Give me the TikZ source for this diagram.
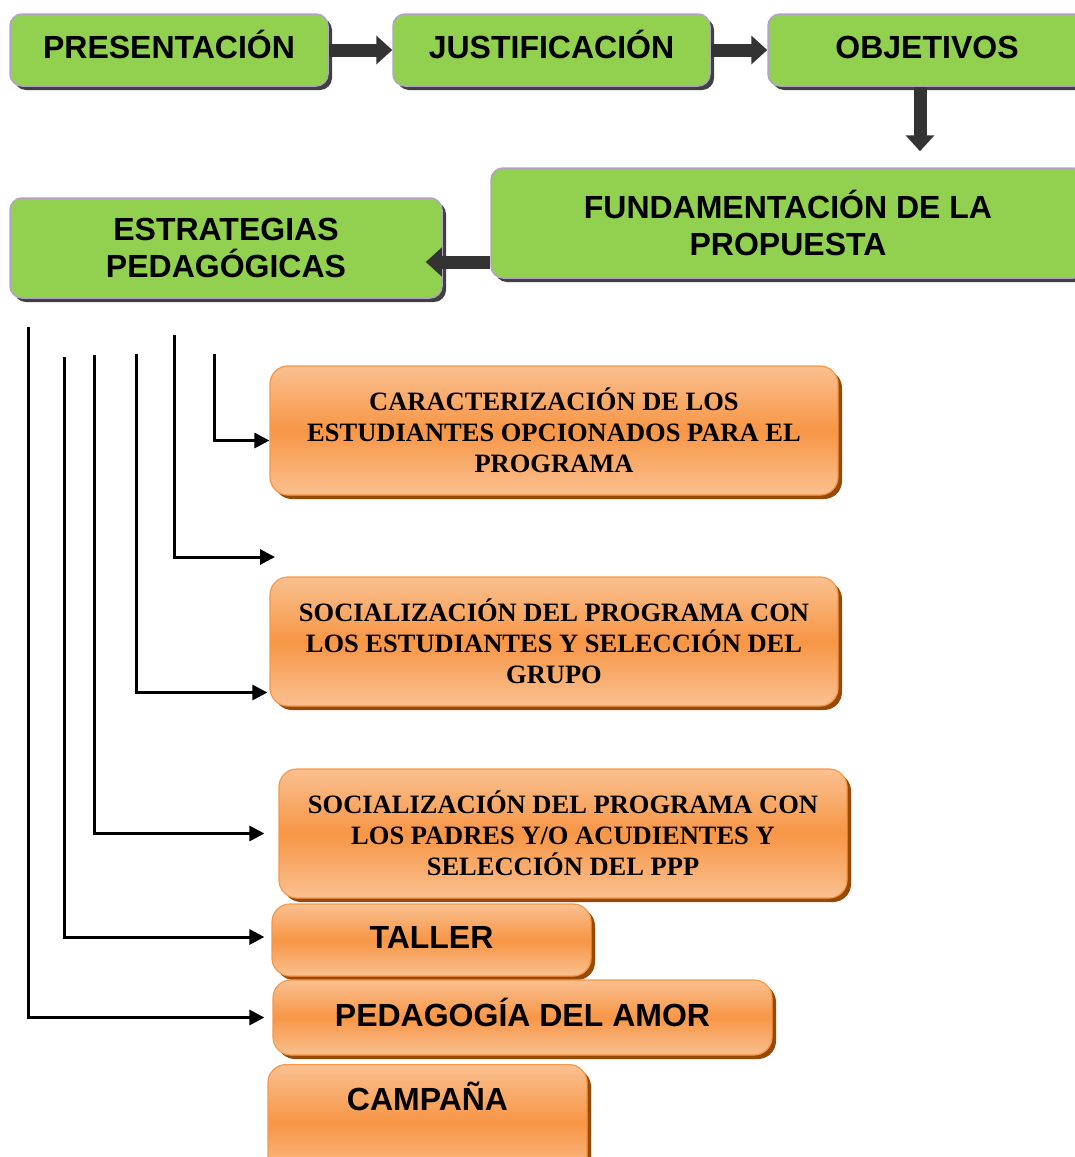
\documentclass[tikz,border=0pt]{standalone}
\usepackage{fontspec}
\usepackage{tikz}
\usetikzlibrary{shadows}
\usetikzlibrary{arrows.meta}
\newfontfamily\sanstext{Liberation Sans}
\newfontfamily\seriftext{Liberation Serif}
\definecolor{boxgreen}{HTML}{92D050}
\definecolor{boxlilac}{HTML}{B3A2C7}
\definecolor{orangelight}{HTML}{FAC090}
\definecolor{orangemid}{HTML}{F79646}
\definecolor{orangeshadow}{HTML}{984807}
\tikzset{
  greenbox/.style = {draw = boxlilac, line width = 1.5pt, fill = boxgreen,
    rounded corners = 12pt, inner sep = 0pt, align = center,
    drop shadow = {shadow xshift = 4pt, shadow yshift = -4pt, fill = black!75, opacity = 1},
    font = \sanstext\bfseries\fontsize{32}{37}\selectfont},
  orangebox/.style = {draw = orangemid, line width = 1.2pt,
    top color = orangelight, bottom color = orangelight, middle color = orangemid,
    rounded corners = 18pt, inner sep = 0pt, align = center,
    drop shadow = {shadow xshift = 4pt, shadow yshift = -4pt, fill = orangeshadow, opacity = 1}},
  orangesans/.style = {orangebox, font = \sanstext\bfseries\fontsize{32}{37}\selectfont},
  orangeserif/.style = {orangebox, font = \seriftext\bfseries\fontsize{26.5}{31}\selectfont},
  oneline/.style = {text height = 24pt, text depth = 7pt},
  bigarrow/.style = {line width = 13pt, black!80, -{Triangle[length = 16pt, width = 28pt]}},
  link/.style = {line width = 3pt, -{Triangle[length = 15pt, width = 15pt]}}
}
\begin{document}
\begin{tikzpicture}[x = 1pt, y = -1pt]
\clip (0, 0) rectangle (1075, 1157);
% green chain
\draw (169, 50) node[greenbox, oneline, minimum width = 318pt, minimum height = 72pt] (pres) {PRESENTACIÓN};
\draw (551.5, 50) node[greenbox, oneline, minimum width = 317pt, minimum height = 72pt] (just) {JUSTIFICACIÓN};
\draw (927, 50) node[greenbox, oneline, minimum width = 318pt, minimum height = 72pt] (obj) {OBJETIVOS};
\draw (788, 223) node[greenbox, minimum width = 594pt, minimum height = 110pt] (fund) {FUNDAMENTACIÓN DE LA\\PROPUESTA};
\draw (226, 248) node[greenbox, minimum width = 432pt, minimum height = 100pt] (estr) {ESTRATEGIAS\\PEDAGÓGICAS};
\draw [bigarrow] (pres) to (just);
\draw [bigarrow] (just) to (obj);
\draw [bigarrow, shorten >= 16pt] ([xshift = -7pt]obj.south) to ([xshift = -7pt]obj.south |- fund.north);
\draw [bigarrow, shorten >= -17pt] ([yshift = -39pt]fund.west) to ([yshift = -39pt]fund.west -| estr.east);
% orange boxes
\draw (554, 430.5) node[orangeserif, minimum width = 568pt, minimum height = 129pt] (caract)
  {CARACTERIZACIÓN DE LOS\\ESTUDIANTES OPCIONADOS PARA EL\\PROGRAMA};
\draw (554, 641.5) node[orangeserif, minimum width = 568pt, minimum height = 129pt] (socest)
  {SOCIALIZACIÓN DEL PROGRAMA CON\\LOS ESTUDIANTES Y SELECCIÓN DEL\\GRUPO};
\draw (563, 833.5) node[orangeserif, minimum width = 568pt, minimum height = 129pt] (socpad)
  {SOCIALIZACIÓN DEL PROGRAMA CON\\LOS PADRES Y/O ACUDIENTES Y\\SELECCIÓN DEL PPP};
\draw (431.5, 940) node[orangesans, oneline, minimum width = 319pt, minimum height = 72pt] (taller) {TALLER};
\draw (522.5, 1017.5) node[orangesans, oneline, minimum width = 499pt, minimum height = 75pt] (amor) {PEDAGOGÍA DEL AMOR};
\draw (427.5, 1064) node[orangesans, anchor = north, minimum width = 319pt,
  text height = 46pt, text depth = 70pt] (campana) {CAMPAÑA};
% branch lines
\coordinate (b1) at (28, 327);
\coordinate (b2) at (64, 357);
\coordinate (b3) at (94, 355);
\coordinate (b4) at (136, 354);
\coordinate (b5) at (174, 335);
\coordinate (b6) at (214, 354);
\coordinate (free) at (275, 557);
\draw [link] (b6) |- ([yshift = -10pt]caract.west);
\draw [link] (b5) |- (free);
\draw [link, shorten >= 2pt] (b4) |- ([yshift = -51pt]socest.west);
\draw [link, shorten >= 14pt] (b3) |- (socpad.west);
\draw [link, shorten >= 7pt] (b2) |- ([yshift = 3pt]taller.west);
\draw [link, shorten >= 8pt] (b1) |- (amor.west);
\end{tikzpicture}
\end{document}
